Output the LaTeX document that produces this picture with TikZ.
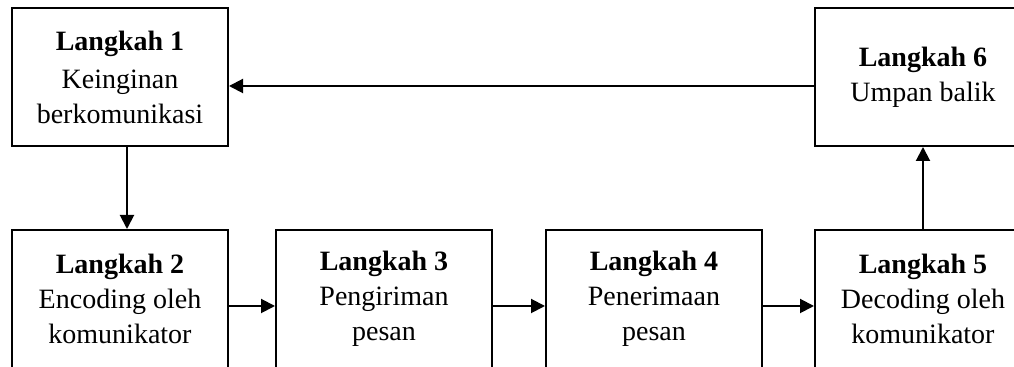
\documentclass[tikz,border=0pt]{standalone}
\usepackage{fontspec}
\setmainfont{Liberation Serif}
\usetikzlibrary{positioning,arrows.meta}

\begin{document}
\begin{tikzpicture}[main node/.style={draw, line width=1pt, align=center, minimum width=108pt, minimum height=69pt, font=\fontsize{14}{17.5}\selectfont},
  flow/.style={line width=1pt, -{Triangle[length=7pt,width=7pt]}}]
\useasboundingbox (0,0) rectangle (507pt,-183.5pt);
\clip (0,0) rectangle (507pt,-183.5pt);
\node[main node] at (60pt,-149.5pt)   (step2) {\textbf{Langkah 2}\\Encoding oleh\\komunikator};
\node[main node, right=23pt of step2]   (step3) {\textbf{Langkah 3}\\Pengiriman\\pesan};
\node[main node, right=26pt of step3]   (step4) {\textbf{Langkah 4}\\Penerimaan\\pesan};
\node[main node, right=25.5pt of step4] (step5) {\textbf{Langkah 5}\\Decoding oleh\\komunikator};
\node[main node, above=41pt of step2]   (step1) {\textbf{Langkah 1}\\[1.5pt]Keinginan\\berkomunikasi};
\node[main node, above=41pt of step5]   (step6) {\textbf{Langkah 6}\\Umpan balik};
\path
([xshift=3.5pt]step1.south)  edge[flow] ([xshift=3.5pt]step2.north)
([yshift=-3.5pt]step2.east)  edge[flow] ([yshift=-3.5pt]step3.west)
([yshift=-3.5pt]step3.east)  edge[flow] ([yshift=-3.5pt]step4.west)
([yshift=-3.5pt]step4.east)  edge[flow] ([yshift=-3.5pt]step5.west)
(step5)                      edge[flow] (step6)
([yshift=-4.5pt]step6.west)  edge[flow] ([yshift=-4.5pt]step1.east)
;
\end{tikzpicture}
\end{document}
